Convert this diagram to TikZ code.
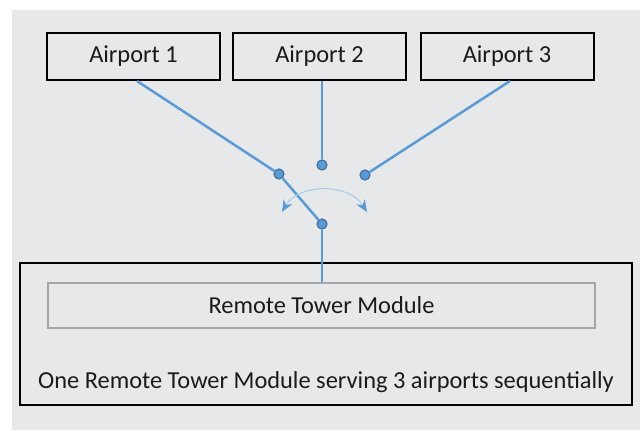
\documentclass[tikz,border=0pt]{standalone}
\usepackage{fontspec}
\setmainfont{Carlito}
\usetikzlibrary{arrows.meta}
\definecolor{bgray}{HTML}{E7E8EA}
\definecolor{lblue}{HTML}{5B9BD5}
\definecolor{dblue}{HTML}{41719C}
\definecolor{pblue}{HTML}{A9CBEA}
\definecolor{igray}{HTML}{A6A6A6}
\definecolor{tgray}{HTML}{1A1A1A}
\tikzset{
  airport/.style={draw=black, line width=1pt, minimum width=86.5pt, minimum height=23.5pt, inner sep=0pt, text=tgray, font=\fontsize{12.2}{14}\selectfont},
  wire/.style={draw=lblue, line width=1.25pt},
  dot/.style={circle, fill=lblue, draw=dblue, line width=0.6pt, minimum size=5pt, inner sep=0pt},
  txt/.style={font=\fontsize{12.2}{14}\selectfont, text=tgray, inner sep=0pt}
}
\begin{document}
\begin{tikzpicture}[x=0.5pt, y=-0.5pt]
\useasboundingbox (0,0) rectangle (640,430);
\fill[bgray] (12,10) rectangle (640,430);
% outer and inner boxes
\node[draw=black, line width=1pt, minimum width=306pt, minimum height=71pt, inner sep=0pt] (outer) at (326,334) {};
\node[draw=igray, line width=0.8pt, minimum width=273.5pt, minimum height=22.5pt, inner sep=0pt, txt] (rtm) at (321.5,305.5) {Remote Tower Module};
\node[txt] (cap) at (326,382) {One Remote Tower Module serving 3 airports sequentially};
% airports
\node[airport] (a1) at (133.5,56.5) {Airport 1};
\node[airport] (a2) at (319.5,56.5) {Airport 2};
\node[airport] (a3) at (507,56.5) {Airport 3};
% dots
\node[dot] (d1) at (279,174) {};
\node[dot] (d2) at (322,165) {};
\node[dot] (d3) at (365,175) {};
\node[dot] (d4) at (322,224) {};
% wires
\draw[wire] ([xshift=1.75pt]a1.south) -- (d1);
\draw[wire] ([xshift=1.25pt]a2.south) -- (d2);
\draw[wire] ([xshift=1.5pt]a3.south) -- (d3);
\draw[wire] (d1) -- (d4);
\draw[wire] (d4) -- (d4 |- rtm.north);
% switch arc
\coordinate (arcL) at (282,212);
\coordinate (arcR) at (367,212);
\draw[pblue, line width=0.5pt, {Stealth[length=6pt,width=5pt,color=lblue]}-{Stealth[length=6pt,width=5pt,color=lblue]}]
  (arcL) .. controls (298,184) and (348,182) .. (arcR);
\end{tikzpicture}
\end{document}
